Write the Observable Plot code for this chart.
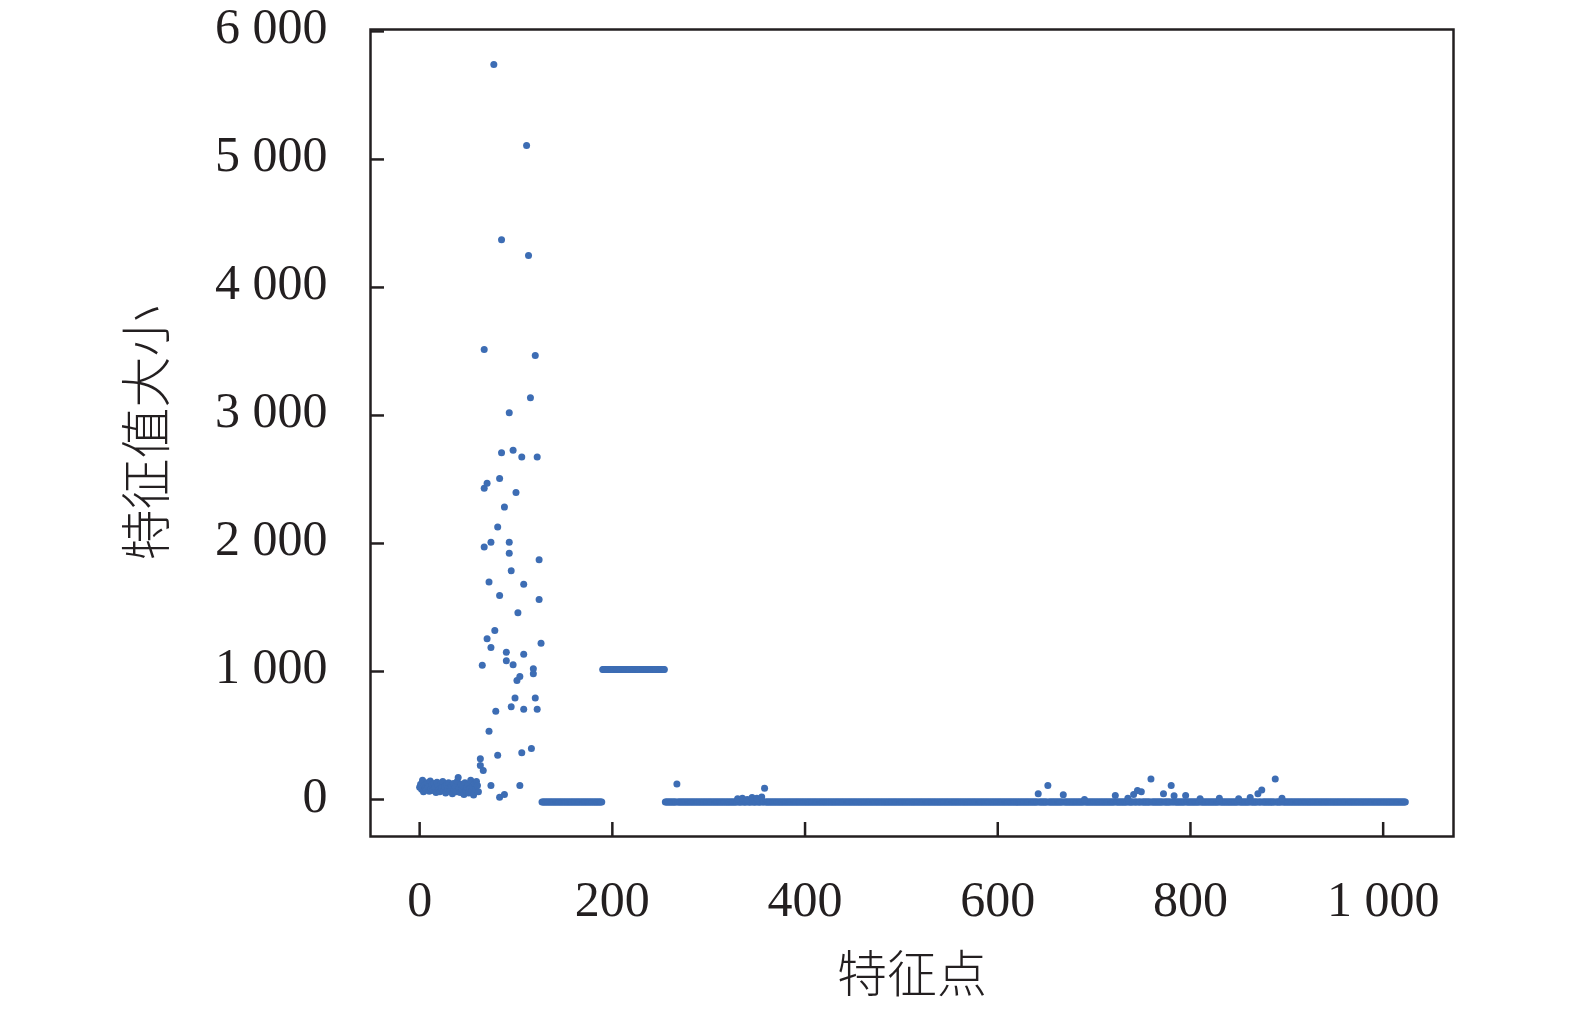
<!DOCTYPE html>
<html>
<head>
<meta charset="utf-8">
<script src="https://cdn.jsdelivr.net/npm/d3@7"></script>
<script src="https://cdn.jsdelivr.net/npm/@observablehq/plot@0.6"></script>
<style>
  html, body { margin: 0; padding: 0; background: #fff; }
  #chart { width: 1575px; height: 1009px; }
</style>
</head>
<body>
<div id="chart"></div>
<script>
// ---- Data ----
const xTitle = "特征点";
const yTitle = "特征值大小";
const xTicks = [0, 200, 400, 600, 800, 1000];
const yTicks = [0, 1000, 2000, 3000, 4000, 5000, 6000];

// feature points 0..61: noisy low cluster (index = position)
const clusterY = [95, 120, 80, 150, 60, 110, 90, 75, 130, 100, 65, 145, 85, 115, 70, 125, 95, 55, 135, 105,
  80, 60, 120, 90, 140, 70, 100, 50, 115, 85, 130, 65, 95, 110, 45, 125, 75, 100, 60, 140,
  172, 90, 55, 120, 80, 105, 40, 130, 70, 95, 115, 50, 85, 150, 65, 100, 35, 125, 80, 140, 110, 60];

// spike region: feature point index and value
const spikeX = [63, 63, 66, 65, 67, 67, 67, 70, 70, 72, 72, 74, 74, 74, 77, 78, 79, 81, 81, 83,
  83, 83, 85, 85, 88, 88, 90, 90, 93, 93, 93, 95, 95, 97, 97, 99, 100, 101, 102, 104,
  104, 106, 106, 108, 108, 108, 111, 113, 115, 116, 118, 118, 120, 120, 122, 122, 124, 124, 126];
const spikeY = [318, 266, 227, 1049, 3516, 2432, 1973, 2471, 1255, 1700, 534, 2010, 1188, 109, 5742, 1320, 690, 2128, 346, 2508,
  1594, 18, 4372, 2708, 2284, 39, 1151, 1083, 3021, 2010, 1924, 1786, 724, 2729, 1052, 792, 2399, 930, 1459, 961,
  109, 2676, 365, 1682, 1135, 706, 5109, 4250, 3138, 398, 1021, 982, 3469, 792, 2676, 706, 1872, 1563, 1221];

// flat runs: start index, end index, value
const runStart = [127, 190, 255];
const runEnd = [189, 254, 1023];
const runValue = [-20, 1015, -20];

// small bumps above the low baseline
const bumpX = [267, 330, 335, 340, 345, 350, 355, 358, 642, 652, 668, 690, 722, 735, 741, 745, 749, 759, 772, 780,
  783, 795, 810, 830, 850, 862, 870, 874, 888, 895];
const bumpY = [122, 5, 10, 0, 15, 10, 20, 88, 44, 109, 37, 0, 31, 10, 40, 70, 60, 161, 44, 109,
  30, 31, 5, 10, 5, 15, 44, 74, 161, 10];

// ---- Build table ----
const points = [];
clusterY.forEach((v, i) => points.push({x: i, y: v}));
spikeX.forEach((x, i) => points.push({x, y: spikeY[i]}));
const bumpSet = new Set(bumpX);
runStart.forEach((s, k) => {
  for (let i = s; i <= runEnd[k]; i++) {
    if (!bumpSet.has(i)) points.push({x: i, y: runValue[k]});
  }
});
bumpX.forEach((x, i) => points.push({x, y: bumpY[i]}));

const fmt = d3.formatLocale({decimal: ".", thousands: " ", grouping: [3], currency: ["", ""]}).format(",");

const W = 1575, H = 1009;
const mL = 370, mR = 122, mT = 29, mB = 173;
const innerW = W - mL - mR, innerH = H - mT - mB;
const ink = "#231f20";
const dotColor = "#3d6db4";
const cjk = "'Noto Sans CJK SC', 'Noto Sans CJK JP', sans-serif";

const chart = Plot.plot({
  width: W,
  height: H,
  marginLeft: mL,
  marginRight: mR,
  marginTop: mT,
  marginBottom: mB,
  x: {domain: [-51, 1073]},
  y: {domain: [-289, 6015]},
  style: {fontFamily: "'Liberation Serif', 'Times New Roman', serif", fontSize: "50px", color: ink, background: "#fff", overflow: "visible"},
  marks: [
    Plot.dot(points, {x: "x", y: "y", r: 3.5, fill: dotColor, stroke: null}),
    Plot.frame({stroke: ink, strokeWidth: 2.5}),
    Plot.tickX(xTicks, {x: d => d, insetTop: innerH - 14, stroke: ink, strokeWidth: 2.5}),
    Plot.tickY(yTicks, {y: d => d, insetRight: innerW - 14, stroke: ink, strokeWidth: 2.5}),
    Plot.axisX(xTicks, {tickSize: 0, tickPadding: 44, tickFormat: fmt, label: null, fontSize: 50, fill: ink}),
    Plot.axisY(yTicks, {tickSize: 0, tickPadding: 43, dy: -4, tickFormat: fmt, label: null, fontSize: 50, fill: ink}),
    Plot.text([xTitle], {frameAnchor: "bottom", dy: 139, lineAnchor: "middle", fontFamily: cjk, fontWeight: 300, fontSize: 50, fill: ink}),
    Plot.text([yTitle], {frameAnchor: "left", dx: -222, rotate: -90, lineAnchor: "middle", textAnchor: "middle", fontFamily: cjk, fontWeight: 300, fontSize: 51, fill: ink})
  ]
});
document.getElementById("chart").appendChild(chart);
</script>
</body>
</html>
